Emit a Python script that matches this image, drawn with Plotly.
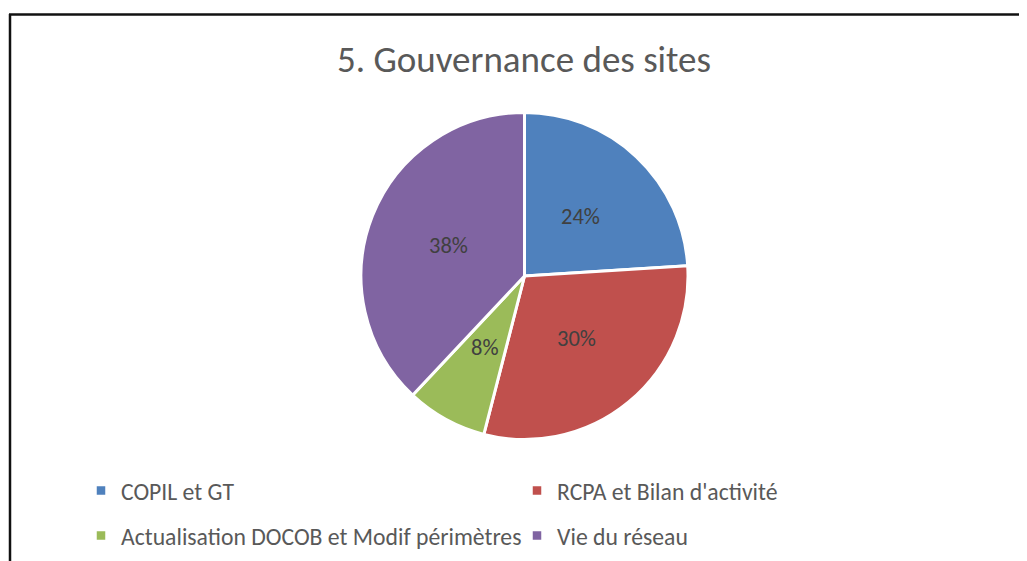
import math
import plotly.graph_objects as go

categories = ["COPIL et GT", "RCPA et Bilan d'activité",
              "Actualisation DOCOB et Modif périmètres", "Vie du réseau"]
values = [24, 30, 8, 38]
colors = ["#4F81BD", "#C0504D", "#9BBB59", "#8064A2"]
title_text = "5. Gouvernance des sites"

# the page body has an 8px margin: the figure is sized to the visible area
OFF = 8
W, H = 1027 - OFF, 561 - OFF
FONT = "Carlito, Calibri, Lato, sans-serif"


def px(x):  # page pixel x -> paper
    return (x - OFF) / W


def py(y):  # page pixel y -> paper
    return 1 - (y - OFF) / H


# pie placement (page pixels)
CX, CY, R = 524.5, 276, 163.5

fig = go.Figure()
fig.add_trace(go.Pie(
    labels=categories, values=values, sort=False, direction="clockwise",
    rotation=0,
    marker=dict(colors=colors, line=dict(color="white", width=3)),
    textposition="none",
    domain=dict(x=[px(CX - R), px(CX + R)], y=[py(CY + R), py(CY - R)]),
    showlegend=False, hoverinfo="label+percent",
))

# percentage labels at half radius on each slice's mid-angle (like Excel)
total = sum(values)
cum = 0
annotations = []
for v in values:
    mid = (cum + v / 2) / total * 2 * math.pi
    cum += v
    lx = CX + 0.5 * R * math.sin(mid)
    ly = CY - 0.5 * R * math.cos(mid)
    annotations.append(dict(
        x=px(lx), y=py(ly), xref="paper", yref="paper", showarrow=False,
        text=f"{round(v / total * 100)}%", xanchor="center", yanchor="middle",
        font=dict(family=FONT, size=22.5, color="#404040")))

# legend entries (row 1 -> legend, row 2 -> legend2)
for i, (name, col) in enumerate(zip(categories, colors)):
    fig.add_trace(go.Scatter(
        x=[None], y=[None], mode="markers", name=name,
        marker=dict(symbol="square", size=8.5, color=col),
        legend="legend" if i < 2 else "legend2",
    ))

leg_common = dict(orientation="h", xanchor="left", yanchor="middle",
                  entrywidth=391, entrywidthmode="pixels",
                  bgcolor="rgba(0,0,0,0)",
                  font=dict(family=FONT, size=23.7, color="#595959"))

fig.update_layout(
    width=W, height=H,
    margin=dict(l=0, r=0, t=0, b=0),
    paper_bgcolor="white", plot_bgcolor="white",
    title=dict(text=title_text, x=px(524), xanchor="center",
               y=py(59), yanchor="middle",
               font=dict(family=FONT, size=37, color="#595959")),
    xaxis=dict(visible=False), yaxis=dict(visible=False),
    legend=dict(x=px(81), y=py(490.5), **leg_common),
    legend2=dict(x=px(81), y=py(535.5), **leg_common),
    annotations=annotations,
    shapes=[
        dict(type="line", xref="paper", yref="paper",
             x0=px(9), x1=1, y0=py(14.5), y1=py(14.5),
             line=dict(color="#111", width=2.5)),
        dict(type="line", xref="paper", yref="paper",
             x0=px(10), x1=px(10), y0=py(14), y1=0,
             line=dict(color="#111", width=2.5)),
    ],
)

fig.write_html("out.html")
